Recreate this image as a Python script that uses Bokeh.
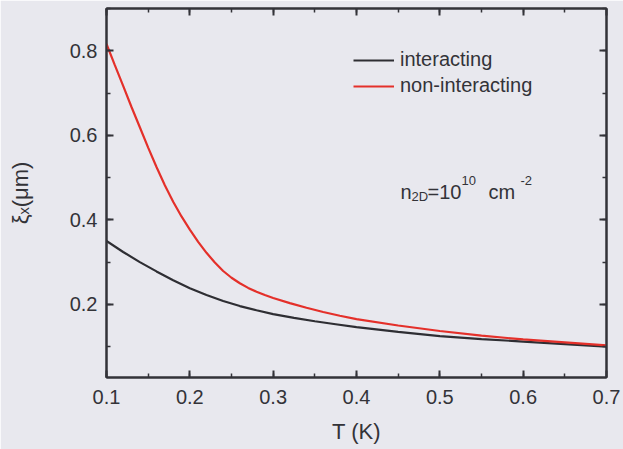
from bokeh.plotting import figure
from bokeh.models import (LinearAxis, Range1d, Legend, LegendItem, Label,
                          FixedTicker)
from bokeh.embed import file_html
from bokeh.resources import INLINE

# ---- data ----
T_red = [0.10, 0.11, 0.12, 0.13, 0.14, 0.15, 0.16, 0.17, 0.18, 0.19, 0.20,
         0.21, 0.22, 0.23, 0.24, 0.25, 0.26, 0.27, 0.28, 0.29, 0.30, 0.32,
         0.34, 0.36, 0.38, 0.40, 0.45, 0.50, 0.55, 0.60, 0.65, 0.70]
non_interacting = [0.816, 0.766, 0.717, 0.667, 0.619, 0.571, 0.525, 0.482,
                   0.443, 0.408, 0.377, 0.348, 0.322, 0.299, 0.279, 0.263,
                   0.250, 0.239, 0.230, 0.222, 0.215, 0.203, 0.192, 0.182,
                   0.173, 0.165, 0.150, 0.137, 0.126, 0.117, 0.110, 0.103]
T_black = [0.10, 0.12, 0.14, 0.16, 0.18, 0.20, 0.22, 0.24, 0.26, 0.28, 0.30,
           0.325, 0.35, 0.375, 0.40, 0.45, 0.50, 0.55, 0.60, 0.65, 0.70]
interacting = [0.350, 0.324, 0.300, 0.278, 0.257, 0.238, 0.222, 0.208, 0.196,
               0.186, 0.177, 0.168, 0.160, 0.153, 0.146, 0.135, 0.125, 0.118,
               0.112, 0.106, 0.100]
x_ticks = [0.1, 0.2, 0.3, 0.4, 0.5, 0.6, 0.7]
y_ticks = [0.2, 0.4, 0.6, 0.8]
series_names = ["interacting", "non-interacting"]

BG = "#e8e8ee"
INK = "#333338"
FONT = "Liberation Sans"

X0, X1 = 0.1, 0.7
Y0, Y1 = 0.027, 0.9
W, H = 623, 449
ML, MR, MT, MB = 106, 17, 8, 72
FW, FH = W - ML - MR, H - MT - MB

p = figure(width=W, height=H, output_backend="svg", toolbar_location=None,
           x_range=Range1d(X0, X1), y_range=Range1d(Y0, Y1),
           min_border_left=ML, min_border_right=MR, min_border_top=MT,
           min_border_bottom=MB, background_fill_color=BG,
           border_fill_color=BG)
p.grid.visible = False
p.outline_line_color = INK
p.outline_line_width = 2

def style_axis(ax, ticks, labels=True, standoff=8):
    ax.axis_line_color = INK
    ax.axis_line_width = 2
    ax.major_tick_line_color = INK
    ax.minor_tick_line_color = INK
    ax.major_tick_line_width = 2
    ax.minor_tick_line_width = 1.5
    ax.major_tick_in = 7
    ax.major_tick_out = 0
    ax.minor_tick_in = 4
    ax.minor_tick_out = 0
    if labels:
        ax.major_label_text_font = FONT
        ax.major_label_text_font_size = "20px"
        ax.major_label_text_color = INK
        ax.major_label_standoff = standoff
        ax.major_label_overrides = {v: f"{v:.1f}" for v in ticks}
    else:
        ax.major_label_overrides = {v: "" for v in ticks}
        ax.major_label_text_font_size = "1px"
        ax.major_label_standoff = 0

xt = FixedTicker(ticks=x_ticks, minor_ticks=[0.1 + 0.05 * i for i in range(13)])
yt = FixedTicker(ticks=y_ticks, minor_ticks=[0.1 * i for i in range(1, 10)])

p.xaxis.ticker = xt
p.yaxis.ticker = yt
style_axis(p.xaxis[0], x_ticks, standoff=12)
style_axis(p.yaxis[0], y_ticks, standoff=9)
p.xaxis.axis_label = "T (K)"
p.yaxis.axis_label = "\u03be\u2093(\u03bcm)"
for ax in (p.xaxis[0], p.yaxis[0]):
    ax.axis_label_text_font = FONT
    ax.axis_label_text_font_size = "22px"
    ax.axis_label_text_font_style = "normal"
    ax.axis_label_text_color = INK
p.xaxis.axis_label_standoff = 12
p.yaxis.axis_label_standoff = 34

top = LinearAxis(ticker=xt)
right = LinearAxis(ticker=yt)
style_axis(top, x_ticks, labels=False)
style_axis(right, y_ticks, labels=False)
p.add_layout(top, "above")
p.add_layout(right, "right")

r1 = p.line(T_black, interacting, line_color="#2e2e33", line_width=2.2)
r2 = p.line(T_red, non_interacting, line_color="#e4302a", line_width=2.2)

legend = Legend(items=[LegendItem(label=series_names[0], renderers=[r1]),
                       LegendItem(label=series_names[1], renderers=[r2])],
                location=(353 - ML, 280), glyph_width=41,
                glyph_height=20, label_height=20, label_standoff=6,
                spacing=3, padding=0, margin=0,
                border_line_color=None, background_fill_alpha=0,
                label_text_font=FONT, label_text_font_size="20px",
                label_text_color=INK)
p.add_layout(legend, "center")

def dx(cx):
    return X0 + (cx - ML) * (X1 - X0) / FW

def dy(cy):
    return Y0 + (H - MB - cy) * (Y1 - Y0) / FH

def lab(text, cx, cy, size):
    p.add_layout(Label(x=dx(cx), y=dy(cy), text=text,
                       text_font=FONT, text_font_size=size,
                       text_color=INK, text_align="left",
                       text_baseline="alphabetic"))

# n_2D = 10^10 cm^-2 annotation
bx, by = 400, 191
lab("n", bx, by, "20px")
lab("2D", bx + 11, by + 5, "13px")
lab("=10", bx + 27, by, "20px")
lab("10", bx + 61, by - 11, "13px")
lab("cm", bx + 88, by, "20px")
lab("-2", bx + 120, by - 11, "13px")

open("out.html", "w").write(file_html(p, INLINE))
